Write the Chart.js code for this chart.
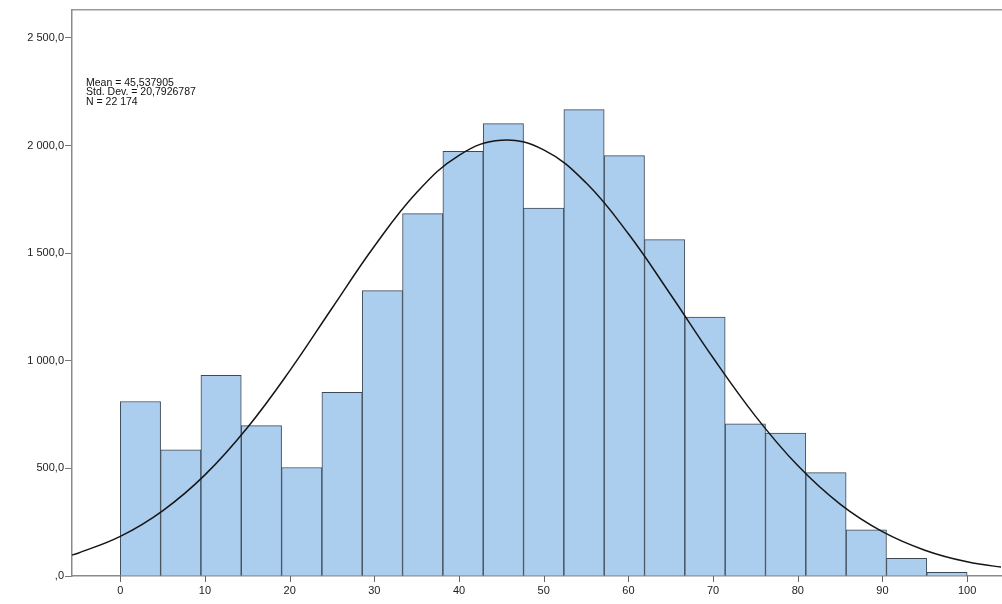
<!DOCTYPE html>
<html>
<head>
<meta charset="utf-8">
<script src="https://cdn.jsdelivr.net/npm/chart.js@4"></script>
<style>
  body { margin: 0; background: #fff; }
  canvas { display: block; }
</style>
</head>
<body>
<canvas id="histChart" width="1002" height="604"></canvas>
<script>
// bin edges of the histogram (21 bins from 0 to 100)
const binEdges = [0, 4.762, 9.524, 14.286, 19.048, 23.81, 28.571, 33.333, 38.095, 42.857,
  47.619, 52.381, 57.143, 61.905, 66.667, 71.429, 76.19, 80.952, 85.714, 90.476, 95.238, 100];
const frequencies = [811, 586, 933, 699, 504, 854, 1326, 1684, 1973, 2102,
  1710, 2167, 1953, 1563, 1203, 707, 664, 480, 214, 82, 17];

// normal curve
const curveX = [-6, -5, 0, 5, 10, 15, 20, 25, 30, 35, 40, 45, 50, 55, 60, 65, 70, 75, 80, 85, 90, 95, 100, 105];
const curveY = [94, 106, 184, 303, 470, 689, 953, 1244, 1532, 1782, 1955, 2025, 1980, 1827, 1590, 1307, 1014, 743, 513, 334, 206, 120, 66, 36];

const xTicks = [0, 10, 20, 30, 40, 50, 60, 70, 80, 90, 100];
const yTicks = [0, 500, 1000, 1500, 2000, 2500];
const yTickLabels = [",0", "500,0", "1 000,0", "1 500,0", "2 000,0", "2 500,0"];
const statLines = ["Mean = 45,537905", "Std. Dev. = 20,7926787", "N = 22 174"];

const barData = frequencies.map((f, i) => ({ x: (binEdges[i] + binEdges[i + 1]) / 2, y: f }));
const curveData = curveX.map((x, i) => ({ x: x, y: curveY[i] }));

const FONT = '"Liberation Sans", Arial, sans-serif';

// stats text in the top left corner + short tick marks under the x axis
const extras = {
  id: "extras",
  afterDraw(chart) {
    const ctx = chart.ctx;
    const xs = chart.scales.x;
    ctx.save();
    ctx.strokeStyle = "#666";
    ctx.lineWidth = 1;
    ctx.beginPath();
    xTicks.forEach((v) => {
      const px = Math.round(xs.getPixelForValue(v)) + 0.5;
      ctx.moveTo(px, xs.top);
      ctx.lineTo(px, xs.top + 6);
    });
    ctx.stroke();

    ctx.font = "10.5px " + FONT;
    ctx.fillStyle = "#111";
    ctx.textBaseline = "middle";
    statLines.forEach((line, i) => {
      ctx.fillText(line, 86, 83 + i * 9.5);
    });
    ctx.restore();
  },
};

const ctx = document.getElementById("histChart").getContext("2d");
const histChart = new Chart(ctx, {
  type: "bar",
  data: {
    datasets: [
      {
        type: "line",
        data: curveData,
        borderColor: "#151515",
        borderWidth: 1.5,
        pointRadius: 0,
        tension: 0.4,
        fill: false,
        order: 0,
      },
      {
        type: "bar",
        data: barData,
        backgroundColor: "#abcdee",
        borderColor: "#3e4955",
        borderWidth: 1,
        barPercentage: 1,
        categoryPercentage: 1,
        order: 1,
      },
    ],
  },
  options: {
    responsive: false,
    animation: false,
    layout: { padding: { top: 10, right: 1, left: 0, bottom: 0 } },
    plugins: {
      legend: { display: false },
      tooltip: { enabled: false },
    },
    scales: {
      x: {
        type: "linear",
        min: -5.7,
        max: 104,
        offset: false,
        afterBuildTicks: (axis) => {
          axis.ticks = xTicks.map((v) => ({ value: v }));
        },
        afterFit: (axis) => {
          axis.height = 28;
        },
        grid: { display: false, tickLength: 0 },
        border: { display: true, color: "#8a8a8a", width: 1.5 },
        ticks: { color: "#222", font: { family: FONT, size: 11 }, padding: 8, maxRotation: 0 },
      },
      xTop: {
        type: "linear",
        position: "top",
        min: -5.7,
        max: 104,
        afterFit: (axis) => {
          axis.height = 0;
        },
        grid: { display: false },
        border: { color: "#9a9a9a", width: 1.5 },
        ticks: { display: false },
      },
      y: {
        min: 0,
        max: 2630,
        afterBuildTicks: (axis) => {
          axis.ticks = yTicks.map((v) => ({ value: v }));
        },
        afterFit: (axis) => {
          axis.width = 72;
        },
        grid: { drawOnChartArea: false, tickLength: 7, color: "#777" },
        border: { color: "#8a8a8a", width: 1.5 },
        ticks: {
          color: "#222",
          font: { family: FONT, size: 11 },
          padding: 1,
          callback: (value) => yTickLabels[yTicks.indexOf(value)],
        },
      },
    },
  },
  plugins: [extras],
});
</script>
</body>
</html>
